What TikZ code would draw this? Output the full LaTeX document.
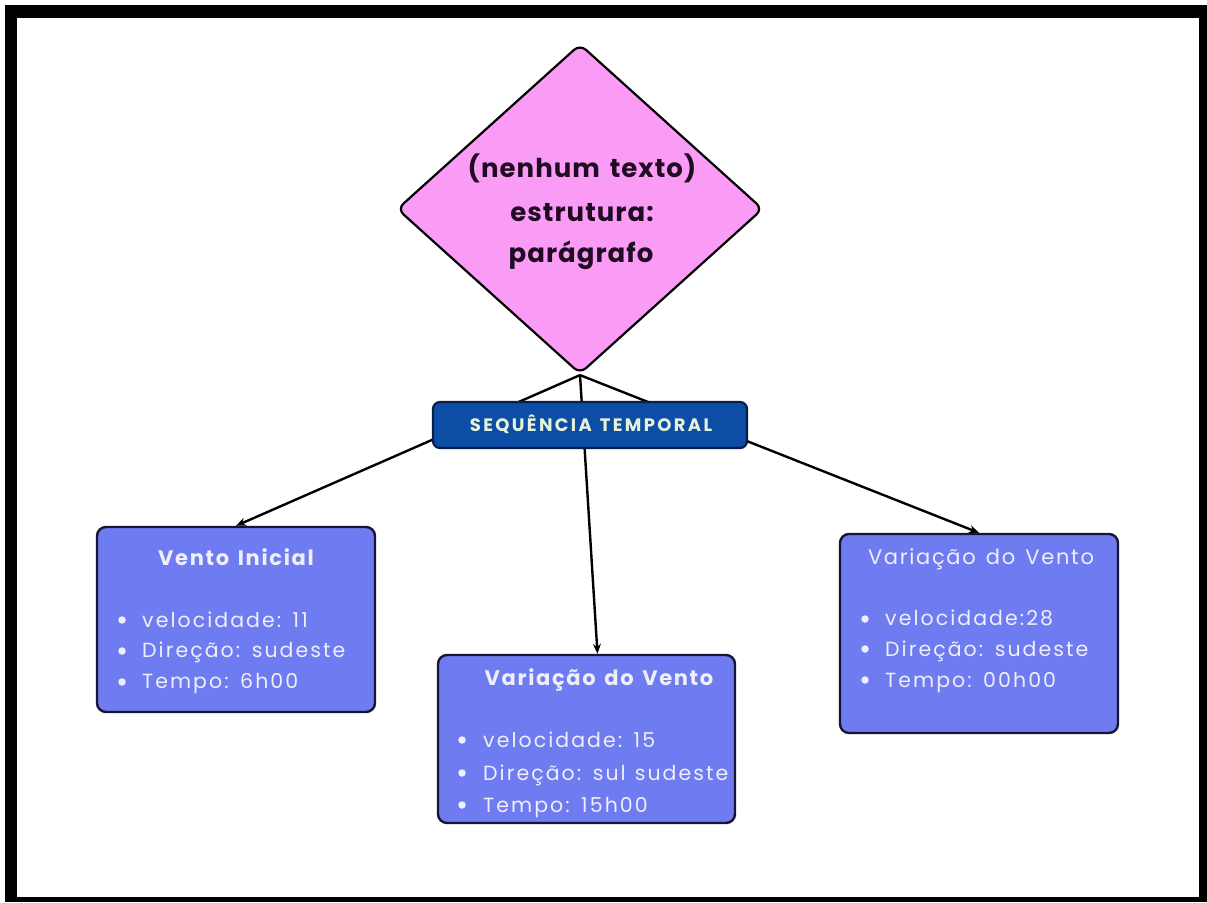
\documentclass[tikz,border=0pt]{standalone}
\usepackage{fontspec}
\setmainfont{Poppins}
\newfontfamily\diamfont[LetterSpace=4,WordSpace=1.5]{Poppins}
\newfontfamily\seqfont[LetterSpace=13,WordSpace=1.3]{Poppins}
\newfontfamily\headfont[LetterSpace=8,WordSpace=1.4]{Poppins}
\newfontfamily\bodyfont[LetterSpace=10,WordSpace=1.2]{Poppins}
\usetikzlibrary{shapes.geometric,arrows.meta}

\definecolor{diampink}{HTML}{FA9CF6}
\definecolor{diamtext}{HTML}{200C22}
\definecolor{seqblue}{HTML}{0C4DA5}
\definecolor{seqedge}{HTML}{0A1E4A}
\definecolor{seqtext}{HTML}{E6F2DC}
\definecolor{cardfill}{HTML}{6F7BF0}
\definecolor{cardedge}{HTML}{161633}
\definecolor{cardtext}{HTML}{EEEFF8}

\tikzset{
  diam/.style={shape=diamond, draw=black, line width=2.2pt, fill=diampink,
    minimum width=366pt, minimum height=330pt, inner sep=0pt, rounded corners=8pt},
  diamtxt/.style={anchor=base, text=diamtext, font=\diamfont\bfseries\fontsize{26}{26}\selectfont, inner sep=0pt},
  seqbox/.style={draw=seqedge, line width=2.2pt, fill=seqblue, rounded corners=7pt,
    minimum width=314pt, minimum height=46pt, inner sep=0pt},
  seqtxt/.style={anchor=base, text=seqtext, font=\seqfont\bfseries\fontsize{18}{18}\selectfont, inner sep=0pt},
  card/.style={draw=cardedge, line width=2.4pt, fill=cardfill, rounded corners=9pt, inner sep=0pt},
  cardtitle/.style={anchor=base, text=cardtext, inner sep=0pt},
  boldtitle/.style={cardtitle, font=\headfont\bfseries\fontsize{21}{21}\selectfont},
  lighttitle/.style={cardtitle, font=\headfont\fontsize{21}{21}\selectfont},
  item/.style={anchor=base west, text=cardtext, inner sep=0pt, font=\bodyfont\fontsize{20.5}{20.5}\selectfont},
  dot/.style={circle, fill=cardtext, inner sep=0pt, minimum size=7.5pt},
  link/.style={draw=black, line width=2.4pt, -{Stealth[length=10pt,width=8pt]}},
}

\begin{document}
\begin{tikzpicture}[x=1pt, y=-1pt]
  % page and black frame
  \fill[white] (0,0) rectangle (1207,902);
  \fill[black] (5,5) rectangle (1207,902);
  \fill[white] (17,18) rectangle (1199,897);
  \useasboundingbox (0,0) rectangle (1207,902);

  % central diamond
  \node[diam] (d) at (580,209) {};
  \node[diamtxt] (d1) at (582,177) {(nenhum texto)};
  \node[diamtxt] (d2) at (582,221) {estrutura:};
  \node[diamtxt] (d3) at (581,262) {parágrafo};

  % three cards
  \node[card, minimum width=278pt, minimum height=185pt] (c1) at (236,619.5) {};
  \node[card, minimum width=297pt, minimum height=168pt] (c2) at (586.5,739) {};
  \node[card, minimum width=278pt, minimum height=199pt] (c3) at (979,633.5) {};

  % card texts
  \node[boldtitle] (t1) at (236,565) {Vento Inicial};
  \node[dot] (b11) at (122,620) {};
  \node[dot] (b12) at (122,651) {};
  \node[dot] (b13) at (122,682) {};
  \node[item] (i11) at (142,627) {velocidade: 11};
  \node[item] (i12) at (142,657) {Direção: sudeste};
  \node[item] (i13) at (142,688) {Tempo: 6h00};

  \node[boldtitle] (t2) at (599,685) {Variação do Vento};
  \node[dot] (b21) at (462,740) {};
  \node[dot] (b22) at (462,773) {};
  \node[dot] (b23) at (462,805) {};
  \node[item] (i21) at (483,747) {velocidade: 15};
  \node[item] (i22) at (483,780) {Direção: sul sudeste};
  \node[item] (i23) at (483,812) {Tempo: 15h00};

  \node[lighttitle] (t3) at (981,564) {Variação do Vento};
  \node[dot] (b31) at (865,619) {};
  \node[dot] (b32) at (865,649) {};
  \node[dot] (b33) at (865,680) {};
  \node[item] (i31) at (885,625) {velocidade:28};
  \node[item] (i32) at (885,656) {Direção: sudeste};
  \node[item] (i33) at (885,687) {Tempo: 00h00};

  % connectors from the diamond to the cards
  \draw[link] (d.south) -- (c1.north);
  \draw[link] (d.south) -- ([xshift=11pt]c2.north);
  \draw[link] (d.south) -- (c3.north);

  % label box laid over the connectors
  \node[seqbox] (s) at (590,425) {};
  \node[seqtxt] (st) at (591,431) {SEQUÊNCIA TEMPORAL};
\end{tikzpicture}
\end{document}
